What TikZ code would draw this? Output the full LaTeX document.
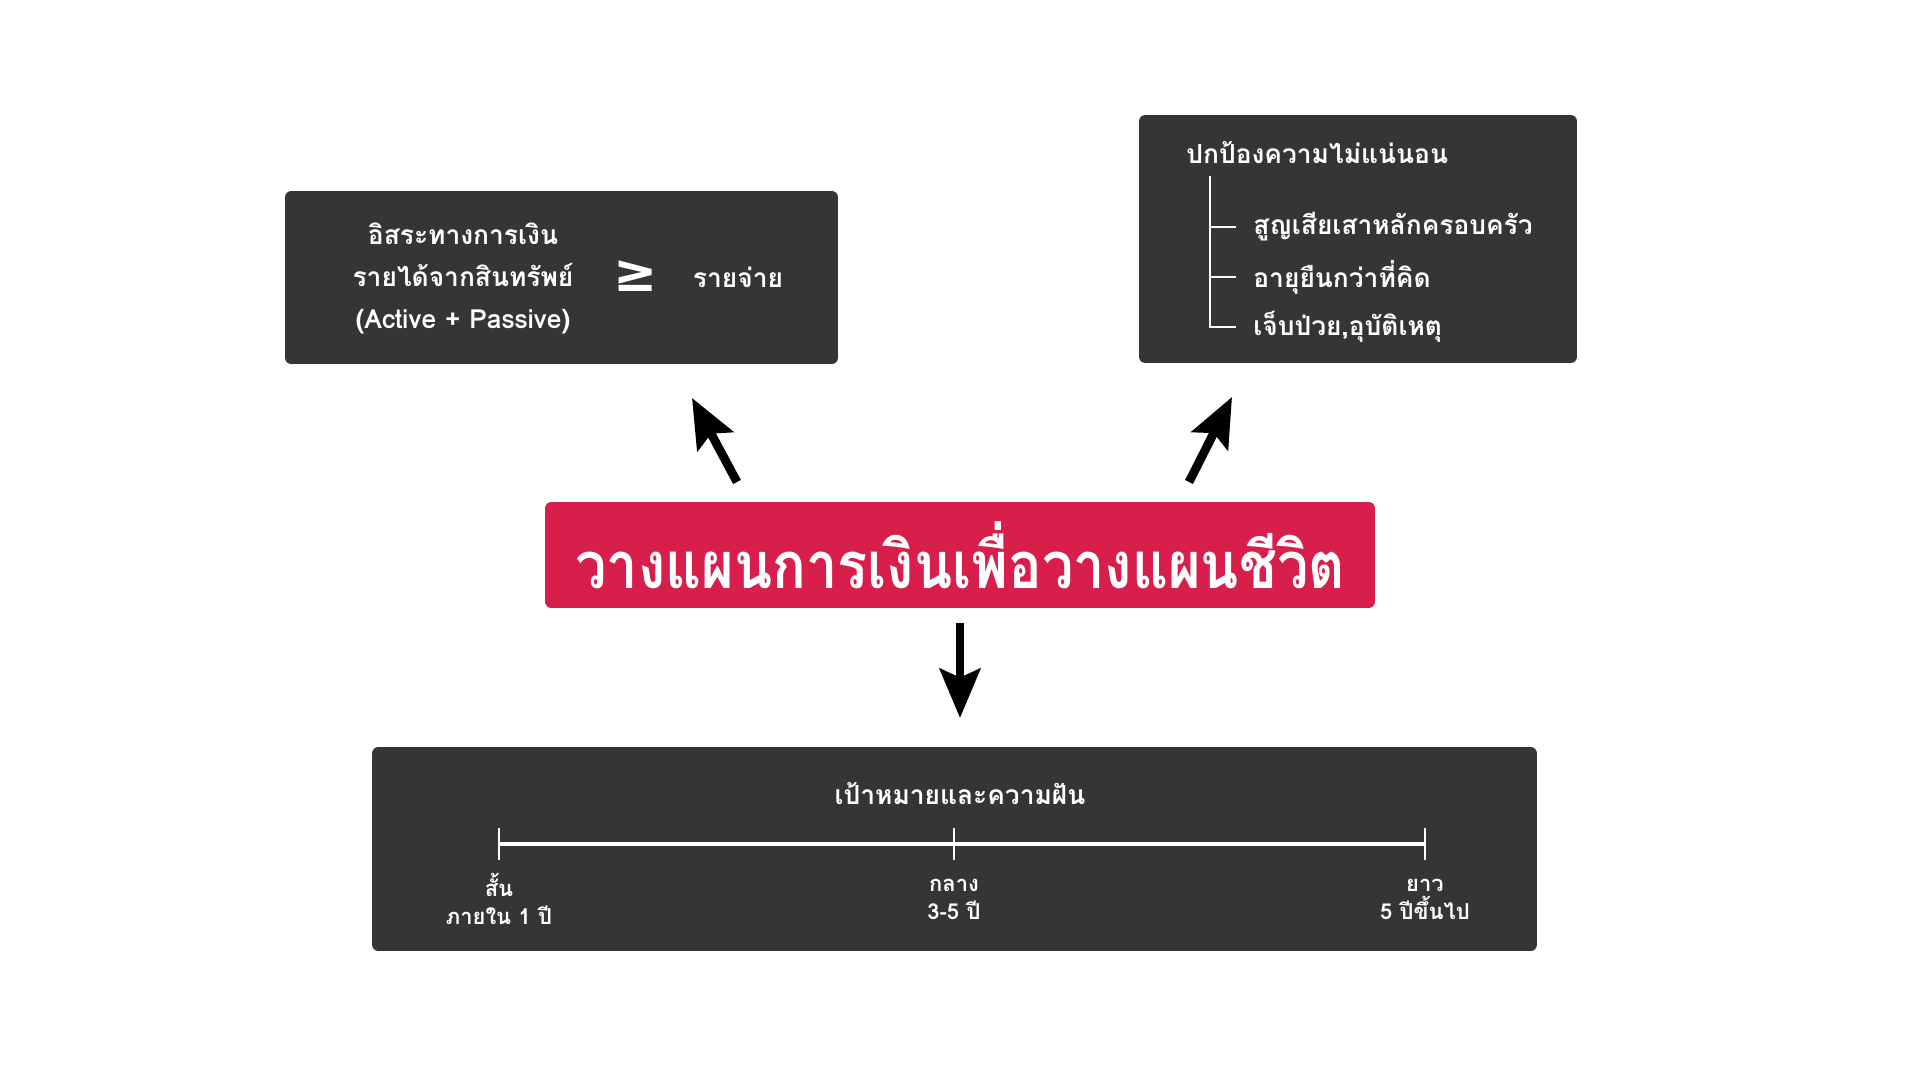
\documentclass[tikz,border=0pt]{standalone}
\usepackage{fontspec}
\newfontfamily\thaifont[Script=Thai]{Loma}
\newfontfamily\symfont{DejaVu Sans}
\usetikzlibrary{positioning}
\usetikzlibrary{arrows.meta}
\definecolor{boxgray}{HTML}{353534}
\definecolor{planred}{HTML}{D81F4B}

\begin{document}
\begin{tikzpicture}[x=0.02cm, y=-0.02cm, every node/.style={font=\thaifont\bfseries\fontsize{15}{23.9}\selectfont, text=white},
    darkbox/.style={fill=boxgray, rounded corners=3.5pt},
    riskitem/.style={anchor=west, inner xsep=9.7pt},
    bigarrow/.style={-{Stealth[length=28pt,width=23pt,inset=5pt]}, line width=5pt},
    whiteline/.style={draw=white, line width=1.6pt}]
    \fill[white] (0,0) rectangle (1921,1081);
    \useasboundingbox (0,0) rectangle (1921,1081);

    \node[darkbox, minimum width=11.06cm, minimum height=3.46cm] (free) at (561.5,277.5) {};
    \node[align=center] (income) at (463,278) {อิสระทางการเงิน\\รายได้จากสินทรัพย์\\(Active + Passive)};
    \node (geq) at (636,276) {\symfont\fontsize{30}{30}\selectfont ≥};
    \node (spend) at (738,277) {รายจ่าย};

    \node[darkbox, minimum width=8.76cm, minimum height=4.96cm] (risk) at (1358,239) {};
    \node[anchor=west, inner sep=0pt] (risktitle) at (1186,153) {ปกป้องความไม่แน่นอน};
    \node[riskitem] (r1) at (1236,227) {สูญเสียเสาหลักครอบครัว};
    \node[riskitem] (r2) at (1236,277) {อายุยืนกว่าที่คิด};
    \node[riskitem] (r3) at (1236,327) {เจ็บป่วย,อุบัติเหตุ};
    \coordinate (trunk) at (1210,176);
    \draw[whiteline] (trunk) |- (r3.west);
    \draw[whiteline] (trunk |- r1.west) -- (r1.west);
    \draw[whiteline] (trunk |- r2.west) -- (r2.west);

    \node[fill=planred, rounded corners=3.5pt, inner sep=0pt, minimum width=16.6cm, minimum height=2.12cm,
          font=\thaifont\bfseries\fontsize{37}{37}\selectfont] (plan) at (960,555) {\scalebox{0.86}[1]{วางแผนการเงินเพื่อวางแผนชีวิต}};

    \node[darkbox, minimum width=23.3cm, minimum height=4.08cm] (goal) at (954.5,849) {};
    \node (goaltitle) at (960,794) {เป้าหมายและความฝัน};
    \coordinate (t1) at (499,844);
    \coordinate (t2) at (954,844);
    \coordinate (t3) at (1425,844);
    \draw[whiteline, line width=1.8pt] (t1) -- (t3);
    \foreach \t in {t1,t2,t3}
        \draw[whiteline, line width=1.1pt] ([yshift=9pt]\t) -- ([yshift=-9pt]\t);
    \node[align=center, font=\thaifont\bfseries\fontsize{12.5}{16}\selectfont] (short) at (499,899) {สั้น\\ภายใน 1 ปี};
    \node[align=center, font=\thaifont\bfseries\fontsize{12.5}{16}\selectfont] (mid) at (954,899) {กลาง\\3-5 ปี};
    \node[align=center, font=\thaifont\bfseries\fontsize{12.5}{16}\selectfont] (long) at (1425,899) {ยาว\\5 ปีขึ้นไป};

    \coordinate (la) at (737,482);
    \coordinate (lb) at (692,398);
    \coordinate (ra) at (1189,482);
    \coordinate (rb) at (1232,397);
    \coordinate (da) at (960,623);
    \coordinate (db) at (960,718);
    \draw[bigarrow] (la) -- (lb);
    \draw[bigarrow] (ra) -- (rb);
    \draw[bigarrow] (da) -- (db);
\end{tikzpicture}
\end{document}
